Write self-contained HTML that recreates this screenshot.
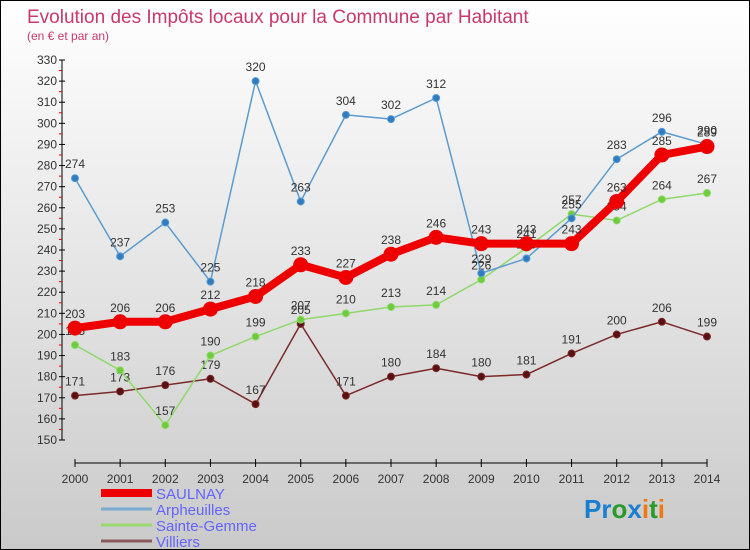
<!DOCTYPE html>
<html><head><meta charset="utf-8"><style>
body{margin:0}
#c{width:748px;height:548px;border:1px solid #000;background:linear-gradient(#fff,#cacaca);position:relative;font-family:"Liberation Sans",sans-serif;overflow:hidden}
</style></head><body>
<div id="c">
<svg id="s" width="748" height="548" style="position:absolute;left:0;top:0" font-family="Liberation Sans, sans-serif">
<text x="26" y="22" font-size="19" fill="#c8396a">Evolution des Impôts locaux pour la Commune par Habitant</text>
<text x="26" y="39" font-size="12" fill="#c8396a">(en € et par an)</text>
<g id="axes"></g><g id="series"></g>
<g id="legend" font-size="15" fill="#6464ff"></g>
<text x="583" y="517" font-size="26" font-weight="bold"><tspan fill="#1a7fd0">Pr</tspan><tspan fill="#2a9a2a">o</tspan><tspan fill="#1a7fd0">x</tspan><tspan fill="#f07a10">i</tspan><tspan fill="#2a9a2a">t</tspan><tspan fill="#f07a10">i</tspan></text>
</svg>
</div>
<script>
const years=[2000,2001,2002,2003,2004,2005,2006,2007,2008,2009,2010,2011,2012,2013,2014];
const saulnay=[203,206,206,212,218,233,227,238,246,243,243,243,263,285,289];
const arpheuilles=[274,237,253,225,320,263,304,302,312,229,236,255,283,296,290];
const sainteGemme=[195,183,157,190,199,207,210,213,214,226,241,257,254,264,267];
const villiers=[171,173,176,179,167,205,171,180,184,180,181,191,200,206,199];
const yTicks=[150,160,170,180,190,200,210,220,230,240,250,260,270,280,290,300,310,320,330];
const NS="http://www.w3.org/2000/svg";
const X=i=>74+i*(632/14);
const Y=v=>439-(v-150)*(380/180);
function mk(t,a,p){const e=document.createElementNS(NS,t);for(const k in a)e.setAttribute(k,a[k]);p.appendChild(e);return e;}
const ax=document.getElementById('axes');
let l=mk('line',{x1:61,y1:Y(330),x2:61,y2:Y(150),stroke:'#000'},ax);


yTicks.forEach(v=>{
 mk('line',{x1:58,y1:Y(v),x2:64,y2:Y(v),stroke:'#000'},ax);
 if(v<330)mk('line',{x1:58,y1:Y(v+5),x2:61,y2:Y(v+5),stroke:'#e00'},ax);
 const t=mk('text',{x:56,y:Y(v)+4,'font-size':12,'text-anchor':'end',fill:'#333'},ax);t.textContent=v;
 
 
});
l=mk('line',{x1:X(0),y1:462,x2:X(14),y2:462,stroke:'#000'},ax);


years.forEach((y,i)=>{
 mk('line',{x1:X(i),y1:458,x2:X(i),y2:466,stroke:'#000'},ax);
 const t=mk('text',{x:X(i),y:482,'font-size':12,'text-anchor':'middle',fill:'#333'},ax);t.textContent=y;
 
 
});
const sg=document.getElementById('series');
function draw(data,color,dot,w,r,name){
 const g=mk('g',{},sg);
 
 
 mk('polyline',{points:data.map((v,i)=>X(i)+','+Y(v)).join(' '),fill:'none',stroke:color,'stroke-width':w,'stroke-linejoin':'round'},g);
 data.forEach((v,i)=>{
  const c=mk('circle',{cx:X(i),cy:Y(v),r:r,fill:dot,stroke:color,'stroke-width':1},g);
  
  
  const t=mk('text',{x:X(i),y:Y(v)-10,'font-size':12,'text-anchor':'middle',fill:'#333'},g);t.textContent=v;
  
  
 });
}
draw(villiers,'#7a2a2a','#5a1010',1.5,3.5,'villiers');
draw(sainteGemme,'#8fd86a','#6ccc3a',1.5,3.5,'sainte-gemme');
draw(arpheuilles,'#5b9bd0','#2f7dc0',1.5,3.5,'arpheuilles');
draw(saulnay,'#ee0000','#ee0000',8,7,'saulnay');
const lg=document.getElementById('legend');
[['SAULNAY','#ee0000',8],['Arpheuilles','#7aaad0',3],['Sainte-Gemme','#9ad870',3],['Villiers','#8a5a5a',3]].forEach((e,i)=>{
 const y=492+i*16;
 const ln=mk('line',{x1:100,y1:y,x2:151,y2:y,stroke:e[1],'stroke-width':e[2]},lg);
 
 
 const t=mk('text',{x:155,y:y+6},lg);t.textContent=e[0];
 
 
});
</script>
</body></html>
